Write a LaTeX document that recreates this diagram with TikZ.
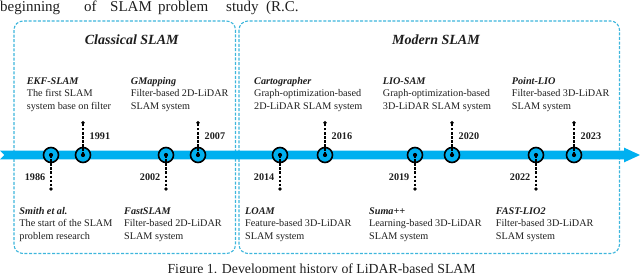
\documentclass[tikz,border=0pt]{standalone}
\usepackage{fontspec}
\setmainfont{Liberation Serif}
\definecolor{barcyan}{HTML}{00B0F0}
\definecolor{boxcyan}{HTML}{3DB6DC}
\definecolor{txt}{HTML}{1E1E1E}
\tikzset{
  boxline/.style={draw=boxcyan, line width=1.1pt, dash pattern=on 3pt off 1.6pt, rounded corners=9pt},
  bar/.style={fill=barcyan, draw=none},
  ms/.style={circle, draw=black, line width=1.6pt, fill=barcyan, minimum size=15pt, inner sep=0pt},
  stem/.style={draw=black, line width=1.05pt, dash pattern=on 2.6pt off 1.5pt},
  yearlbl/.style={inner sep=0pt, text=txt, font=\fontsize{10.2}{12}\selectfont\bfseries},
  ttl/.style={inner sep=0pt, anchor=base west, text=txt, font=\fontsize{10.2}{12}\selectfont\bfseries\itshape},
  desc/.style={inner sep=0pt, anchor=base west, text=txt, font=\fontsize{10.2}{12}\selectfont},
  head/.style={inner sep=0pt, anchor=base, text=txt, font=\fontsize{14}{16}\selectfont\bfseries\itshape},
  pagetxt/.style={inner sep=0pt, anchor=base west, text=txt, font=\fontsize{15}{17}\selectfont},
  captxt/.style={inner sep=0pt, anchor=base west, text=txt, font=\fontsize{13.8}{16}\selectfont},
}
\newcommand\evtblock[6]{%
  \node[ttl] (#1-t) at (#2,#3) {#4};
  \node[desc] (#1-a) at (#2,#3+12.6) {#5};
  \node[desc] (#1-b) at (#2,#3+25.2) {#6};
}
\begin{document}
\begin{tikzpicture}[x=1pt,y=-1pt]
\useasboundingbox (0,0) rectangle (640,273);
% surrounding page text
\node[pagetxt] (w1) at (0,11.5) {beginning};
\node[pagetxt] (w2) at (84,11.5) {of};
\node[pagetxt] (w3) at (110,11.5) {SLAM};
\node[pagetxt] (w4) at (158,11.5) {problem};
\node[pagetxt] (w5) at (226,11.5) {study};
\node[pagetxt] (w6) at (266,11.5) {(R.C.};
\node[captxt] (cap) at (167.3,273.2) {Figure 1. Development history of LiDAR-based SLAM};
% boxes
\draw[boxline] (14,21) rectangle (235.5,253.5);
\draw[boxline] (239,21) rectangle (619.5,253.5);
\node[head] (hclass) at (131.7,44.5) {Classical SLAM};
\node[head] (hmod) at (436,44.5) {Modern SLAM};
% timeline bar
\fill[bar] (0,150.7) -- (624,150.7) -- (624,147.6) -- (640,155) -- (624,162.4) -- (624,159.3) -- (0,159.3) -- (4.5,155) -- cycle;
% milestones above
\foreach \yr/\x in {1991/83,2007/198,2016/325,2020/452,2023/574}{
  \node[ms] (c\yr) at (\x,155) {};
  \coordinate (e\yr) at (\x,122.7);
  \draw[stem] (c\yr.center) -- (e\yr);
  \fill (e\yr) circle (1.9);
  \fill (c\yr.center) circle (2.1);
  \node[yearlbl, anchor=base west] (y\yr) at (\x+6.5,139.5) {\yr};
}
% milestones below
\foreach \yr/\x in {1986/51,2002/166,2014/280,2019/415,2022/536}{
  \node[ms] (c\yr) at (\x,155) {};
  \coordinate (e\yr) at (\x,189);
  \draw[stem] (c\yr.center) -- (e\yr);
  \fill (e\yr) circle (1.9);
  \fill (c\yr.center) circle (2.1);
  \node[yearlbl, anchor=base east] (y\yr) at (\x-5.5,180) {\yr};
}
% event texts above
\evtblock{ekf}{26.7}{84}{EKF-SLAM}{The first SLAM}{system base on filter}
\evtblock{gmap}{130.7}{84}{GMapping}{Filter-based 2D-LiDAR}{SLAM system}
\evtblock{carto}{254}{84}{Cartographer}{Graph-optimization-based}{2D-LiDAR SLAM system}
\evtblock{liosam}{382.7}{84}{LIO-SAM}{Graph-optimization-based}{3D-LiDAR SLAM system}
\evtblock{plio}{511.7}{84}{Point-LIO}{Filter-based 3D-LiDAR}{SLAM system}
% event texts below
\evtblock{smith}{19.3}{214}{Smith et al.}{The start of the SLAM}{problem research}
\evtblock{fslam}{124}{214}{FastSLAM}{Filter-based 2D-LiDAR}{SLAM system}
\evtblock{loam}{245}{214}{LOAM}{Feature-based 3D-LiDAR}{SLAM system}
\evtblock{suma}{369}{214}{Suma++}{Learning-based 3D-LiDAR}{SLAM system}
\evtblock{flio}{495.7}{214}{FAST-LIO2}{Filter-based 3D-LiDAR}{SLAM system}
\end{tikzpicture}
\end{document}
